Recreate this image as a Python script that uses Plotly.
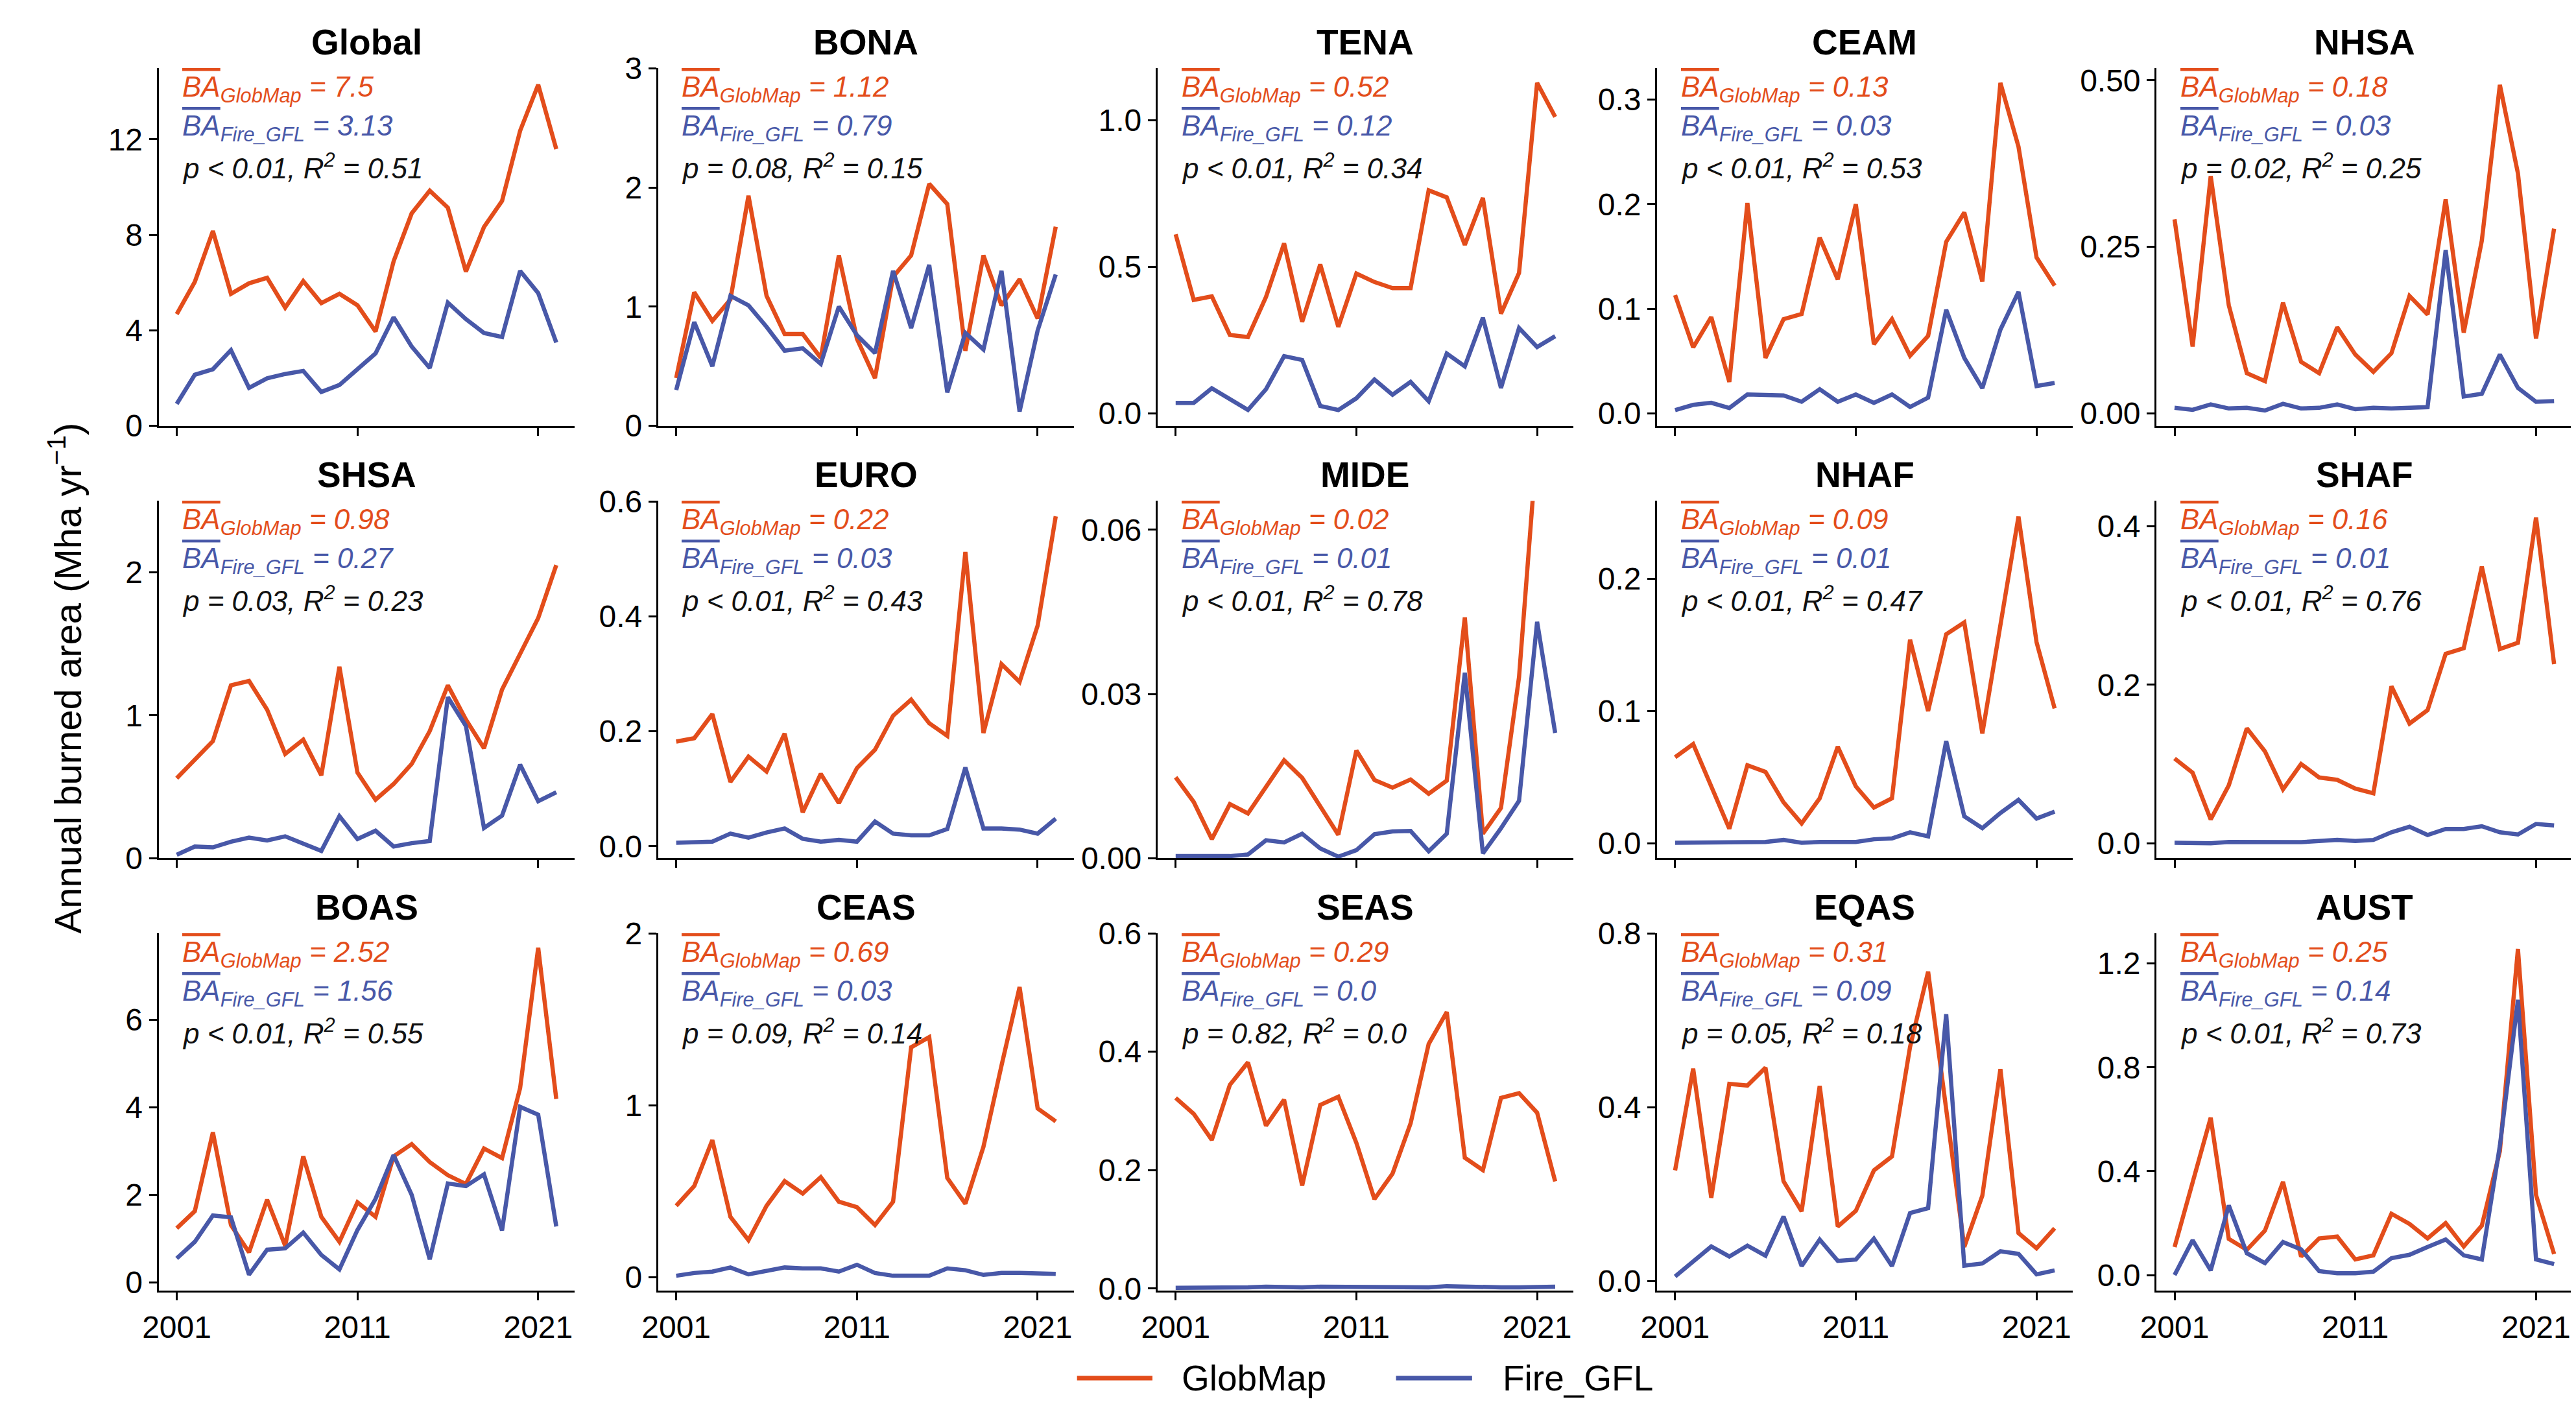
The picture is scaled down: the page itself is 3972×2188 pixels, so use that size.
import plotly.graph_objects as go

W, H = 3972, 2188
ORANGE = "#E34D1B"
BLUE = "#4858A8"
FONT = "Liberation Sans, Arial, Helvetica, sans-serif"

years = list(range(2001, 2023))
regions = ["Global", "BONA", "TENA", "CEAM", "NHSA",
           "SHSA", "EURO", "MIDE", "NHAF", "SHAF",
           "BOAS", "CEAS", "SEAS", "EQAS", "AUST"]

# annual burned area (Mha/yr), GlobMap (gm_) and Fire_GFL (gf_)
gm_global = [4.68, 6.03, 8.16, 5.53, 5.97, 6.20, 4.95, 6.06, 5.14, 5.53, 5.05, 3.95, 6.89, 8.90, 9.85, 9.14, 6.46, 8.33, 9.42, 12.36, 14.29, 11.59]
gf_global = [0.92, 2.14, 2.37, 3.17, 1.59, 1.99, 2.17, 2.30, 1.42, 1.71, 2.37, 3.03, 4.55, 3.32, 2.42, 5.16, 4.47, 3.89, 3.72, 6.49, 5.56, 3.49]
gm_bona = [0.40, 1.12, 0.88, 1.06, 1.93, 1.09, 0.77, 0.77, 0.57, 1.43, 0.73, 0.40, 1.25, 1.43, 2.03, 1.86, 0.63, 1.43, 1.01, 1.23, 0.90, 1.67]
gf_bona = [0.30, 0.87, 0.50, 1.09, 1.01, 0.83, 0.63, 0.65, 0.52, 1.00, 0.76, 0.61, 1.30, 0.82, 1.35, 0.28, 0.78, 0.64, 1.30, 0.12, 0.80, 1.27]
gm_tena = [0.611, 0.387, 0.399, 0.267, 0.260, 0.397, 0.580, 0.312, 0.508, 0.295, 0.477, 0.448, 0.427, 0.427, 0.761, 0.737, 0.575, 0.735, 0.340, 0.479, 1.128, 1.012]
gf_tena = [0.035, 0.035, 0.085, 0.047, 0.011, 0.082, 0.195, 0.182, 0.025, 0.011, 0.051, 0.115, 0.063, 0.107, 0.041, 0.204, 0.160, 0.326, 0.086, 0.291, 0.226, 0.263]
gm_ceam = [0.113, 0.063, 0.092, 0.030, 0.201, 0.053, 0.090, 0.095, 0.168, 0.128, 0.200, 0.066, 0.090, 0.055, 0.074, 0.164, 0.192, 0.126, 0.316, 0.255, 0.149, 0.122]
gf_ceam = [0.003, 0.008, 0.010, 0.005, 0.018, 0.017, 0.017, 0.011, 0.023, 0.011, 0.018, 0.010, 0.018, 0.006, 0.015, 0.099, 0.053, 0.024, 0.080, 0.116, 0.026, 0.029]
gm_nhsa = [0.291, 0.100, 0.356, 0.162, 0.060, 0.048, 0.166, 0.077, 0.060, 0.129, 0.088, 0.062, 0.090, 0.176, 0.148, 0.321, 0.121, 0.259, 0.493, 0.360, 0.112, 0.277]
gf_nhsa = [0.008, 0.005, 0.013, 0.007, 0.008, 0.004, 0.014, 0.007, 0.008, 0.013, 0.006, 0.008, 0.007, 0.008, 0.009, 0.245, 0.025, 0.029, 0.088, 0.038, 0.017, 0.018]
gm_shsa = [0.56, 0.69, 0.82, 1.21, 1.24, 1.04, 0.73, 0.83, 0.58, 1.34, 0.60, 0.41, 0.52, 0.66, 0.89, 1.21, 0.97, 0.77, 1.18, 1.43, 1.68, 2.05]
gf_shsa = [0.025, 0.083, 0.077, 0.116, 0.145, 0.125, 0.154, 0.102, 0.052, 0.295, 0.135, 0.193, 0.083, 0.106, 0.121, 1.127, 0.925, 0.212, 0.299, 0.655, 0.399, 0.462]
gm_euro = [0.182, 0.188, 0.230, 0.112, 0.156, 0.130, 0.196, 0.059, 0.126, 0.075, 0.136, 0.168, 0.227, 0.255, 0.214, 0.192, 0.512, 0.197, 0.317, 0.286, 0.384, 0.574]
gf_euro = [0.006, 0.007, 0.008, 0.022, 0.015, 0.024, 0.031, 0.013, 0.008, 0.011, 0.008, 0.043, 0.022, 0.019, 0.019, 0.030, 0.137, 0.031, 0.031, 0.029, 0.022, 0.048]
gm_mide = [0.0148, 0.0103, 0.0035, 0.0099, 0.0082, 0.0130, 0.0179, 0.0147, 0.0095, 0.0043, 0.0197, 0.0143, 0.0129, 0.0144, 0.0118, 0.0142, 0.0440, 0.0045, 0.0092, 0.0331, 0.0760, 0.0700]
gf_mide = [0.0004, 0.0004, 0.0004, 0.0004, 0.0007, 0.0033, 0.0029, 0.0045, 0.0018, 0.0003, 0.0015, 0.0044, 0.0049, 0.0050, 0.0013, 0.0045, 0.0339, 0.0009, 0.0055, 0.0105, 0.0432, 0.0229]
gm_nhaf = [0.065, 0.075, 0.043, 0.011, 0.059, 0.054, 0.031, 0.015, 0.034, 0.073, 0.043, 0.027, 0.034, 0.154, 0.100, 0.158, 0.167, 0.083, 0.165, 0.247, 0.152, 0.102]
gf_nhaf = [0.0004, 0.0004, 0.0004, 0.0004, 0.0004, 0.0010, 0.0025, 0.0004, 0.0010, 0.0010, 0.0010, 0.0030, 0.0037, 0.0083, 0.0052, 0.0773, 0.0204, 0.0114, 0.0229, 0.0328, 0.0187, 0.0239]
gm_shaf = [0.107, 0.089, 0.030, 0.073, 0.145, 0.116, 0.068, 0.100, 0.083, 0.080, 0.069, 0.063, 0.198, 0.151, 0.168, 0.239, 0.246, 0.349, 0.245, 0.253, 0.411, 0.226]
gf_shaf = [0.0007, 0.0007, 0.0000, 0.0017, 0.0017, 0.0024, 0.0024, 0.0014, 0.0028, 0.0042, 0.0028, 0.0042, 0.0139, 0.0208, 0.0104, 0.0180, 0.0180, 0.0215, 0.0139, 0.0111, 0.0243, 0.0226]
gm_boas = [1.24, 1.63, 3.43, 1.31, 0.69, 1.89, 0.84, 2.88, 1.50, 0.93, 1.83, 1.50, 2.88, 3.16, 2.75, 2.45, 2.25, 3.06, 2.84, 4.44, 7.64, 4.19]
gf_boas = [0.55, 0.93, 1.53, 1.49, 0.18, 0.75, 0.78, 1.14, 0.63, 0.30, 1.20, 1.91, 2.91, 2.00, 0.53, 2.26, 2.20, 2.47, 1.19, 4.01, 3.83, 1.28]
gm_ceas = [0.415, 0.530, 0.797, 0.351, 0.215, 0.415, 0.558, 0.486, 0.582, 0.439, 0.407, 0.303, 0.439, 1.337, 1.396, 0.577, 0.427, 0.758, 1.231, 1.687, 0.981, 0.906]
gf_ceas = [0.008, 0.024, 0.032, 0.056, 0.016, 0.035, 0.056, 0.051, 0.051, 0.032, 0.072, 0.024, 0.008, 0.008, 0.008, 0.051, 0.040, 0.013, 0.024, 0.024, 0.024, 0.019]
gm_seas = [0.322, 0.295, 0.251, 0.344, 0.382, 0.275, 0.319, 0.174, 0.310, 0.324, 0.246, 0.151, 0.194, 0.279, 0.413, 0.467, 0.221, 0.200, 0.322, 0.330, 0.297, 0.181]
gf_seas = [0.001, 0.001, 0.002, 0.002, 0.002, 0.003, 0.002, 0.002, 0.003, 0.003, 0.002, 0.003, 0.002, 0.003, 0.002, 0.004, 0.003, 0.003, 0.002, 0.002, 0.002, 0.003]
gm_eqas = [0.255, 0.489, 0.192, 0.454, 0.450, 0.491, 0.230, 0.161, 0.449, 0.126, 0.162, 0.255, 0.287, 0.539, 0.712, 0.400, 0.079, 0.197, 0.488, 0.111, 0.076, 0.122]
gf_eqas = [0.011, 0.047, 0.080, 0.057, 0.082, 0.059, 0.149, 0.035, 0.096, 0.047, 0.050, 0.098, 0.035, 0.157, 0.168, 0.614, 0.036, 0.041, 0.069, 0.063, 0.016, 0.025]
gm_aust = [0.108, 0.361, 0.606, 0.139, 0.097, 0.171, 0.359, 0.071, 0.141, 0.148, 0.060, 0.076, 0.236, 0.197, 0.141, 0.200, 0.110, 0.190, 0.477, 1.256, 0.308, 0.081]
gf_aust = [0.000, 0.134, 0.018, 0.268, 0.084, 0.046, 0.127, 0.099, 0.015, 0.007, 0.007, 0.013, 0.065, 0.078, 0.108, 0.137, 0.076, 0.060, 0.498, 1.060, 0.060, 0.042]

globmap = [gm_global, gm_bona, gm_tena, gm_ceam, gm_nhsa, gm_shsa, gm_euro, gm_mide,
           gm_nhaf, gm_shaf, gm_boas, gm_ceas, gm_seas, gm_eqas, gm_aust]
firegfl = [gf_global, gf_bona, gf_tena, gf_ceam, gf_nhsa, gf_shsa, gf_euro, gf_mide,
           gf_nhaf, gf_shaf, gf_boas, gf_ceas, gf_seas, gf_eqas, gf_aust]

# stats printed in each panel
mean_gm = ["7.5", "1.12", "0.52", "0.13", "0.18", "0.98", "0.22", "0.02", "0.09", "0.16", "2.52", "0.69", "0.29", "0.31", "0.25"]
mean_gf = ["3.13", "0.79", "0.12", "0.03", "0.03", "0.27", "0.03", "0.01", "0.01", "0.01", "1.56", "0.03", "0.0", "0.09", "0.14"]
p_text = ["< 0.01", "= 0.08", "< 0.01", "< 0.01", "= 0.02", "= 0.03", "< 0.01", "< 0.01", "< 0.01", "< 0.01",
          "< 0.01", "= 0.09", "= 0.82", "= 0.05", "< 0.01"]
r2_text = ["0.51", "0.15", "0.34", "0.53", "0.25", "0.23", "0.43", "0.78", "0.47", "0.76", "0.55", "0.14", "0.0", "0.18", "0.73"]

# y axes: ranges and ticks
y_ranges = [[0, 14.98], [0, 3.0], [-0.043, 1.178], [-0.012, 0.330], [-0.019, 0.518],
            [0, 2.50], [-0.021, 0.601], [0, 0.0653], [-0.0114, 0.259], [-0.019, 0.432],
            [-0.19, 7.97], [-0.08, 2.0], [-0.004, 0.6], [-0.022, 0.8], [-0.061, 1.316]]
y_ticks = [["0", "4", "8", "12"], ["0", "1", "2", "3"], ["0.0", "0.5", "1.0"], ["0.0", "0.1", "0.2", "0.3"],
           ["0.00", "0.25", "0.50"], ["0", "1", "2"], ["0.0", "0.2", "0.4", "0.6"], ["0.00", "0.03", "0.06"],
           ["0.0", "0.1", "0.2"], ["0.0", "0.2", "0.4"], ["0", "2", "4", "6"], ["0", "1", "2"],
           ["0.0", "0.2", "0.4", "0.6"], ["0.0", "0.4", "0.8"], ["0.0", "0.4", "0.8", "1.2"]]
x_ticks = [2001, 2011, 2021]

fig = go.Figure()

# panel geometry in pixels
L0, CW, CS = 213, 645, 775
T0, RH, RS = 73, 565, 683.5

ann = []
for i, reg in enumerate(regions):
    r, c = divmod(i, 5)
    n = "" if i == 0 else str(i + 1)
    x0 = (L0 + c * CS) / W
    x1 = (L0 + c * CS + CW) / W
    y1 = 1 - (T0 + r * RS) / H
    y0 = 1 - (T0 + r * RS + RH) / H

    fig.add_trace(go.Scatter(x=years, y=globmap[i], mode="lines", name="GlobMap",
                             line=dict(color=ORANGE, width=6.5), showlegend=False,
                             xaxis="x" + n, yaxis="y" + n))
    fig.add_trace(go.Scatter(x=years, y=firegfl[i], mode="lines", name="Fire_GFL",
                             line=dict(color=BLUE, width=6.5), showlegend=False,
                             xaxis="x" + n, yaxis="y" + n))

    common = dict(showline=True, linecolor="black", linewidth=3, ticks="outside",
                  ticklen=12, tickwidth=3, tickcolor="black", showgrid=False,
                  zeroline=False, tickfont=dict(family=FONT, size=48, color="black"))
    fig.layout["xaxis" + n] = dict(domain=[x0, x1], range=[2000, 2023], anchor="y" + n,
                                   tickvals=x_ticks,
                                   ticktext=[str(v) for v in x_ticks] if r == 2 else ["", "", ""],
                                   **common)
    fig.layout["yaxis" + n] = dict(domain=[y0, y1], range=y_ranges[i], anchor="x" + n,
                                   tickvals=[float(t) for t in y_ticks[i]], ticktext=y_ticks[i],
                                   **common)

    xr, yr = "x" + n + " domain", "y" + n + " domain"
    ann.append(dict(text="<b>" + reg + "</b>", x=0.5, y=1, xref=xr, yref=yr,
                    xanchor="center", yanchor="bottom", yshift=7, showarrow=False,
                    font=dict(family=FONT, size=55, color="black")))
    lines = [
        ('<i><span style="text-decoration:overline">BA</span><sub>GlobMap</sub> = ' + mean_gm[i] + '</i>', ORANGE, -2),
        ('<i><span style="text-decoration:overline">BA</span><sub>Fire_GFL</sub> = ' + mean_gf[i] + '</i>', BLUE, -62),
        ('<i>p ' + p_text[i].replace("<", "&lt;") + ', R<sup>2</sup> = ' + r2_text[i] + '</i>', "#111111", -122),
    ]
    for txt, col, ys in lines:
        ann.append(dict(text=txt, x=0.054, y=1, xref=xr, yref=yr, xanchor="left",
                        yanchor="top", yshift=ys, showarrow=False,
                        font=dict(family=FONT, size=44, color=col)))

# shared y title
ann.append(dict(text="Annual burned area (Mha yr<sup>\u22121</sup>)", x=68 / W, y=1 - 1037 / H,
                xref="paper", yref="paper", textangle=-90, showarrow=False,
                xanchor="center", yanchor="middle",
                font=dict(family=FONT, size=58, color="black")))

# legend drawn below the panels
ly = 1 - 2143 / H
shapes = []
for name, col, lx0, lx1, tx in [("GlobMap", ORANGE, 1638, 1755, 1798),
                                ("Fire_GFL", BLUE, 2133, 2251, 2296)]:
    shapes.append(dict(type="line", xref="paper", yref="paper", x0=lx0 / W, x1=lx1 / W,
                       y0=ly, y1=ly, line=dict(color=col, width=7)))
    ann.append(dict(text=name, x=tx / W, y=ly, xref="paper", yref="paper",
                    xanchor="left", yanchor="middle", showarrow=False,
                    font=dict(family=FONT, size=55, color="black")))

fig.update_layout(width=W, height=H, margin=dict(l=0, r=0, t=0, b=0),
                  paper_bgcolor="white", plot_bgcolor="white",
                  showlegend=False, annotations=ann, shapes=shapes,
                  font=dict(family=FONT, color="black"))

fig.write_html("out.html")
